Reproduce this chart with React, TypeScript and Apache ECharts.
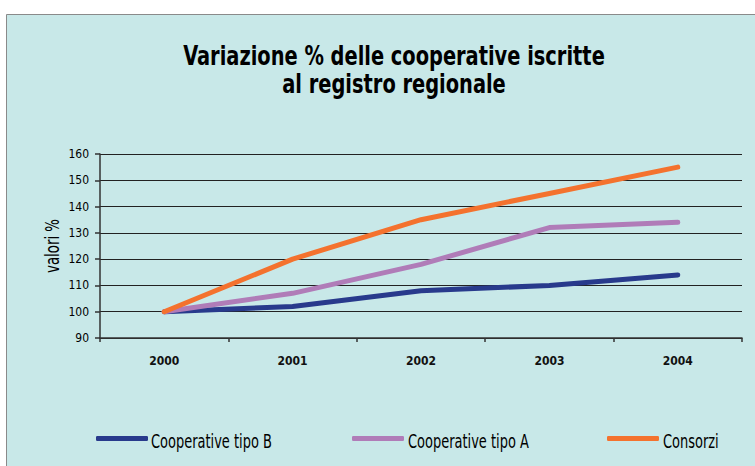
import React, { useEffect, useRef } from "react";
import * as echarts from "echarts";

const years = ["2000", "2001", "2002", "2003", "2004"];
const tipoB = [100, 102, 108, 110, 114];
const tipoA = [100, 107, 118, 132, 134];
const consorzi = [100, 120, 135, 145, 155];
const seriesNames = ["Cooperative tipo B", "Cooperative tipo A", "Consorzi"];
const titleLines = ["Variazione % delle cooperative iscritte", "al registro regionale"];
const yAxisName = "valori %";

const FONT = "DejaVu Sans Condensed";
const BG = "#C8E8E8";
const colors = ["#283A8C", "#B07CB8", "#F4722E"];

export default function App() {
  const ref = useRef<HTMLDivElement>(null);
  useEffect(() => {
    if (!ref.current) return;
    const chart = echarts.init(ref.current, undefined, { renderer: "svg" });
    const data = [tipoB, tipoA, consorzi];
    const legendIconLefts = [96, 352, 607];
    const legendTextLefts = [151, 408, 663];
    chart.setOption({
      animation: false,
      backgroundColor: "#ffffff",
      graphic: [
        {
          type: "rect",
          shape: { x: 6.5, y: 14.5, width: 760, height: 470 },
          style: { fill: BG, stroke: "#8a8a8a", lineWidth: 1 },
          z: -10,
        },
        ...titleLines.map((t, i) => ({
          type: "text",
          x: 394,
          y: 69 + i * 28,
          scaleX: 0.83,
          style: {
            text: t,
            fontFamily: FONT,
            fontWeight: "bold",
            fontSize: 26,
            fill: "#000",
            align: "center",
            verticalAlign: "bottom",
          },
        })),
        {
          type: "text",
          x: 52,
          y: 246,
          rotation: Math.PI / 2,
          scaleX: 0.74,
          style: {
            text: yAxisName,
            fontFamily: FONT,
            fontSize: 20,
            fill: "#000",
            align: "center",
            verticalAlign: "middle",
          },
        },
        ...seriesNames.map((n, i) => ({
          type: "text",
          x: legendTextLefts[i],
          y: 441,
          scaleX: 0.76,
          style: {
            text: n,
            fontFamily: FONT,
            fontSize: 19,
            fill: "#000",
            align: "left",
            verticalAlign: "middle",
          },
        })),
      ],
      legend: seriesNames.map((n, i) => ({
        data: [n],
        left: legendIconLefts[i],
        top: 436,
        padding: 0,
        itemWidth: 52,
        itemHeight: 5,
        itemGap: 0,
        icon: "roundRect",
        formatter: () => "",
        textStyle: { fontSize: 1, padding: 0 },
      })),
      grid: { left: 100, right: 13, top: 154, bottom: 128, containLabel: false },
      xAxis: {
        type: "category",
        data: years,
        boundaryGap: true,
        axisLine: { show: true, lineStyle: { color: "#333", width: 1.5 } },
        axisTick: { show: true, length: 4, lineStyle: { color: "#333", width: 1.5 } },
        axisLabel: { fontFamily: FONT, fontSize: 12, fontWeight: 600, color: "#111", margin: 17 },
        splitLine: { show: false },
      },
      yAxis: {
        type: "value",
        min: 90,
        max: 160,
        interval: 10,
        axisLine: { show: true, lineStyle: { color: "#333", width: 1.5 } },
        axisTick: { show: true, length: 5, lineStyle: { color: "#333", width: 1.5 } },
        axisLabel: { fontFamily: FONT, fontSize: 12, color: "#000", margin: 11 },
        splitLine: { show: true, lineStyle: { color: "#222", width: 1.2 } },
      },
      series: seriesNames.map((n, i) => ({
        name: n,
        type: "line",
        data: data[i],
        symbol: "none",
        lineStyle: { width: 5, color: colors[i], cap: "round" },
        itemStyle: { color: colors[i] },
        z: 3 + i,
      })),
    });
    return () => chart.dispose();
  }, []);
  return (
    <div
      ref={ref}
      style={{ position: "absolute", left: 0, top: 0, width: 755, height: 466 }}
    />
  );
}
